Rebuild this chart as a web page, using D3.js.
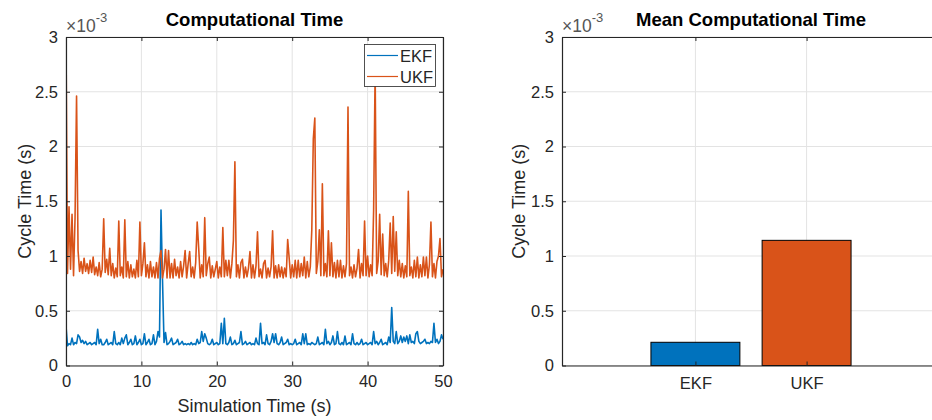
<!DOCTYPE html>
<html>
<head>
<meta charset="utf-8">
<script src="https://cdn.jsdelivr.net/npm/d3@7"></script>
<style>
  body { margin: 0; background: #fff; }
  svg { display: block; font-family: "Liberation Sans", Arial, Helvetica, sans-serif; }
</style>
</head>
<body>
<svg id="chart" width="932" height="420"></svg>
<script>
// sampled every 0.2 s from 0 to 50 s, values in ms (axis shows x10^-3 s)
var sampleStep = 0.2;

var ekfTime = [
  0.36, 0.18, 0.20, 0.19, 0.25,  0.19, 0.21, 0.20, 0.28, 0.26,
  0.21, 0.23, 0.20, 0.22, 0.19,  0.20, 0.21, 0.19, 0.20, 0.21,
  0.19, 0.33, 0.20, 0.24, 0.19,  0.19, 0.21, 0.24, 0.19, 0.20,
  0.21, 0.19, 0.31, 0.20, 0.19,  0.21, 0.19, 0.25, 0.20, 0.25,
  0.28, 0.19, 0.21, 0.24, 0.19,  0.20, 0.27, 0.19, 0.21, 0.24,
  0.19, 0.20, 0.29, 0.19, 0.21,  0.24, 0.19, 0.20, 0.28, 0.19,
  0.22, 0.31, 0.26, 1.42, 0.78,  0.21, 0.30, 0.19, 0.20, 0.22,
  0.25, 0.19, 0.20, 0.21, 0.24,  0.19, 0.20, 0.22, 0.19, 0.20,
  0.19, 0.20, 0.19, 0.21, 0.19,  0.20, 0.19, 0.24, 0.20, 0.21,
  0.31, 0.22, 0.29, 0.25, 0.20,  0.19, 0.20, 0.24, 0.19, 0.20,
  0.21, 0.19, 0.20, 0.385, 0.20, 0.43, 0.20, 0.19, 0.21, 0.26,
  0.19, 0.20, 0.23, 0.19, 0.20,  0.21, 0.31, 0.19, 0.20, 0.22,
  0.19, 0.20, 0.21, 0.19, 0.20,  0.19, 0.25, 0.20, 0.19, 0.385,
  0.20, 0.21, 0.19, 0.28, 0.20,  0.19, 0.22, 0.29, 0.21, 0.29,
  0.20, 0.19, 0.21, 0.26, 0.19,  0.20, 0.21, 0.24, 0.19, 0.20,
  0.19, 0.20, 0.24, 0.19, 0.20,  0.21, 0.19, 0.29, 0.20, 0.29,
  0.19, 0.20, 0.19, 0.21, 0.20,  0.19, 0.20, 0.26, 0.19, 0.20,
  0.21, 0.19, 0.33, 0.20, 0.22,  0.19, 0.21, 0.27, 0.19, 0.20,
  0.31, 0.20, 0.19, 0.21, 0.19,  0.27, 0.19, 0.20, 0.21, 0.19,
  0.29, 0.20, 0.19, 0.21, 0.19,  0.20, 0.24, 0.19, 0.20, 0.21,
  0.19, 0.20, 0.21, 0.19, 0.31,  0.20, 0.22, 0.19, 0.21, 0.24,
  0.19, 0.20, 0.21, 0.19, 0.26,  0.21, 0.53, 0.22, 0.20, 0.31,
  0.20, 0.22, 0.27, 0.21, 0.26,  0.22, 0.27, 0.20, 0.28, 0.21,
  0.22, 0.20, 0.29, 0.31, 0.22,  0.20, 0.21, 0.22, 0.24, 0.20,
  0.21, 0.20, 0.22, 0.21, 0.385, 0.21, 0.24, 0.20, 0.22, 0.28,
  0.24
];

var ukfTime = [
  3.00, 0.84, 1.45, 0.88, 1.38,  0.82, 1.35, 2.46, 1.05, 0.86,
  0.95, 0.84, 0.98, 0.86, 0.93,  0.84, 0.96, 0.85, 0.99, 0.83,
  0.90, 0.82, 0.94, 0.81, 0.88,  1.34, 0.85, 0.97, 0.83, 1.07,
  0.82, 0.93, 0.80, 0.89, 0.81,  1.32, 0.82, 0.90, 0.80, 1.33,
  0.81, 0.95, 0.80, 0.92, 0.81,  0.88, 0.80, 0.96, 0.81, 1.31,
  0.82, 0.93, 1.12, 0.81, 0.92,  0.80, 0.95, 0.81, 0.90, 0.80,
  0.94, 0.80, 0.98, 1.05, 0.80,  0.88, 1.06, 0.80, 1.05, 0.80,
  0.93, 0.80, 0.97, 0.82, 0.90,  0.80, 0.95, 0.81, 0.91, 1.05,
  0.80, 0.93, 1.04, 0.81, 0.90,  0.80, 0.94, 1.31, 1.07, 0.80,
  0.92, 0.81, 1.35, 0.82, 0.93,  0.99, 0.80, 0.91, 0.81, 0.88,
  0.95, 0.80, 0.90, 0.81, 1.26,  0.81, 0.96, 0.82, 0.96, 0.80,
  0.93, 1.14, 1.86, 0.81, 0.92,  0.80, 0.94, 0.97, 0.80, 0.90,
  0.81, 0.89, 1.04, 0.80, 0.92,  0.80, 0.91, 1.22, 0.81, 0.88,
  0.80, 0.93, 0.96, 0.80, 0.89,  0.81, 0.90, 1.23, 0.80, 0.91,
  0.80, 0.92, 0.81, 0.90, 0.80,  0.89, 0.81, 1.15, 0.98, 0.80,
  0.92, 0.81, 0.96, 0.80, 0.96,  0.81, 0.93, 0.82, 0.99, 0.80,
  0.95, 0.81, 0.90, 1.24, 2.07,  2.26, 0.84, 0.95, 1.24, 0.82,
  1.66, 0.82, 0.93, 0.81, 1.23,  0.82, 1.12, 0.81, 0.94, 0.80,
  0.96, 0.81, 0.96, 0.80, 0.91,  0.81, 0.93, 2.36, 0.82, 0.90,
  0.80, 0.92, 0.81, 0.89, 1.06,  0.80, 0.93, 0.82, 1.32, 0.82,
  1.00, 0.81, 0.92, 0.82, 1.42,  2.70, 0.84, 0.95, 1.38, 0.83,
  1.20, 0.82, 0.93, 0.81, 0.96,  1.30, 0.84, 1.36, 0.86, 1.22,
  0.82, 0.96, 0.81, 0.93, 0.80,  0.91, 0.81, 1.59, 0.82, 0.90,
  0.80, 0.96, 0.81, 0.99, 0.80,  0.92, 0.81, 0.99, 0.82, 0.99,
  0.80, 0.92, 1.31, 0.81, 0.93,  0.80, 0.95, 1.00, 1.16, 0.81,
  0.88
];

var filterNames = ["EKF", "UKF"];
var meanTime = [0.212, 1.143];
var yTicks = [0, 0.5, 1, 1.5, 2, 2.5, 3];
var xTicks = [0, 10, 20, 30, 40, 50];
var colors = ["#0072BD", "#D95319"];

var axisColor = "#262626";
var gridColor = "#e3e3e3";
var tickFont = "16.5px";
var labelFont = "18px";

var svg = d3.select("#chart");

// ---------- left: computational time ----------
var left = { x0: 66, x1: 443, y0: 37, y1: 365.5 };
var xs = d3.scaleLinear().domain([0, 50]).range([left.x0, left.x1]);
var ys = d3.scaleLinear().domain([0, 3]).range([left.y1, left.y0]);

var g1 = svg.append("g");

// grid
g1.selectAll(".gx").data(xTicks).enter().append("line")
  .attr("x1", d => xs(d)).attr("x2", d => xs(d))
  .attr("y1", left.y0).attr("y2", left.y1)
  .attr("stroke", gridColor).attr("stroke-width", 1);
g1.selectAll(".gy").data(yTicks).enter().append("line")
  .attr("x1", left.x0).attr("x2", left.x1)
  .attr("y1", d => ys(d)).attr("y2", d => ys(d))
  .attr("stroke", gridColor).attr("stroke-width", 1);

svg.append("clipPath").attr("id", "clipL")
  .append("rect")
  .attr("x", left.x0).attr("y", left.y0 - 1)
  .attr("width", left.x1 - left.x0).attr("height", left.y1 - left.y0 + 1);

var line = d3.line()
  .x((d, i) => xs(i * sampleStep))
  .y(d => ys(d));

[ekfTime, ukfTime].forEach(function (series, k) {
  g1.append("path")
    .datum(series)
    .attr("clip-path", "url(#clipL)")
    .attr("fill", "none")
    .attr("stroke", colors[k])
    .attr("stroke-width", 1.6)
    .attr("stroke-linejoin", "round")
    .attr("d", line);
});

// axes box with inward ticks
g1.append("g")
  .attr("transform", "translate(0," + left.y1 + ")")
  .call(d3.axisBottom(xs).tickValues(xTicks).tickSizeInner(-4).tickSizeOuter(0).tickPadding(10))
  .call(styleAxis);
g1.append("g")
  .attr("transform", "translate(" + left.x0 + ",0)")
  .call(d3.axisLeft(ys).tickValues(yTicks).tickFormat(d3.format("~g")).tickSizeInner(-4).tickSizeOuter(0).tickPadding(8))
  .call(styleAxis);
g1.append("g")
  .attr("transform", "translate(0," + left.y0 + ")")
  .call(d3.axisTop(xs).tickValues(xTicks).tickSizeInner(-4).tickSizeOuter(0).tickFormat(""))
  .call(styleAxis);
g1.append("g")
  .attr("transform", "translate(" + left.x1 + ",0)")
  .call(d3.axisRight(ys).tickValues(yTicks).tickSizeInner(-4).tickSizeOuter(0).tickFormat(""))
  .call(styleAxis);

// titles & labels
g1.append("text")
  .attr("x", (left.x0 + left.x1) / 2).attr("y", 26)
  .attr("text-anchor", "middle")
  .style("font-size", "18.5px").style("font-weight", "bold").attr("fill", "#000")
  .text("Computational Time");
g1.append("text")
  .attr("x", (left.x0 + left.x1) / 2).attr("y", 412)
  .attr("text-anchor", "middle")
  .style("font-size", labelFont).attr("fill", axisColor)
  .text("Simulation Time (s)");
g1.append("text")
  .attr("transform", "translate(31," + (left.y0 + left.y1) / 2 + ") rotate(-90)")
  .attr("text-anchor", "middle")
  .style("font-size", labelFont).attr("fill", axisColor)
  .text("Cycle Time (s)");
exponent(g1, left.x0, 32);

// legend
var lg = g1.append("g");
lg.append("rect")
  .attr("x", 364.5).attr("y", 44.5).attr("width", 71).attr("height", 42)
  .attr("fill", "#fff").attr("stroke", axisColor).attr("stroke-width", 0.8);
filterNames.forEach(function (name, k) {
  var ly = 55.5 + k * 21;
  lg.append("line")
    .attr("x1", 367).attr("x2", 398).attr("y1", ly).attr("y2", ly)
    .attr("stroke", colors[k]).attr("stroke-width", 1.2);
  lg.append("text")
    .attr("x", 400).attr("y", ly + 6)
    .style("font-size", tickFont).attr("fill", axisColor)
    .text(name);
});

// ---------- right: mean computational time ----------
var right = { x0: 562, x1: 940, y0: 37, y1: 365.5 };
var xb = d3.scaleLinear().domain([-0.2, 3.2]).range([right.x0, right.x1]);
var yb = d3.scaleLinear().domain([0, 3]).range([right.y1, right.y0]);
var barPos = [1, 2];
var barWidth = 0.8;

var g2 = svg.append("g");

g2.selectAll(".gx").data(barPos).enter().append("line")
  .attr("x1", d => xb(d)).attr("x2", d => xb(d))
  .attr("y1", right.y0).attr("y2", right.y1)
  .attr("stroke", gridColor).attr("stroke-width", 1);
g2.selectAll(".gy").data(yTicks).enter().append("line")
  .attr("x1", right.x0).attr("x2", right.x1)
  .attr("y1", d => yb(d)).attr("y2", d => yb(d))
  .attr("stroke", gridColor).attr("stroke-width", 1);

g2.selectAll("rect.bar").data(meanTime).enter().append("rect")
  .attr("class", "bar")
  .attr("x", (d, i) => xb(barPos[i] - barWidth / 2))
  .attr("width", (d, i) => xb(barPos[i] + barWidth / 2) - xb(barPos[i] - barWidth / 2))
  .attr("y", d => yb(d))
  .attr("height", d => yb(0) - yb(d))
  .attr("fill", (d, i) => colors[i])
  .attr("stroke", "#000").attr("stroke-width", 1);

g2.append("g")
  .attr("transform", "translate(0," + right.y1 + ")")
  .call(d3.axisBottom(xb).tickValues(barPos).tickFormat((d, i) => filterNames[i]).tickSizeInner(-4).tickSizeOuter(0).tickPadding(12))
  .call(styleAxis);
g2.append("g")
  .attr("transform", "translate(" + right.x0 + ",0)")
  .call(d3.axisLeft(yb).tickValues(yTicks).tickFormat(d3.format("~g")).tickSizeInner(-4).tickSizeOuter(0).tickPadding(8))
  .call(styleAxis);
g2.append("g")
  .attr("transform", "translate(0," + right.y0 + ")")
  .call(d3.axisTop(xb).tickValues(barPos).tickSizeInner(-4).tickSizeOuter(0).tickFormat(""))
  .call(styleAxis);

g2.append("text")
  .attr("x", 751).attr("y", 26)
  .attr("text-anchor", "middle")
  .style("font-size", "18.5px").style("font-weight", "bold").attr("fill", "#000")
  .text("Mean Computational Time");
g2.append("text")
  .attr("transform", "translate(525," + (right.y0 + right.y1) / 2 + ") rotate(-90)")
  .attr("text-anchor", "middle")
  .style("font-size", labelFont).attr("fill", axisColor)
  .text("Cycle Time (s)");
exponent(g2, right.x0, 32);

function styleAxis(sel) {
  sel.select(".domain").attr("stroke", axisColor).attr("stroke-width", 1.2);
  sel.selectAll(".tick line").attr("stroke", axisColor).attr("stroke-width", 1);
  sel.selectAll(".tick text")
    .attr("fill", axisColor)
    .style("font-size", tickFont)
    .style("font-family", "'Liberation Sans', Arial, Helvetica, sans-serif");
}

function exponent(g, x, y) {
  var t = g.append("text")
    .attr("x", x).attr("y", y)
    .style("font-size", "17.5px").attr("fill", "#555");
  t.append("tspan").text("\u00d710");
  t.append("tspan").attr("dy", -10).style("font-size", "13px").text("-3");
}
</script>
</body>
</html>
